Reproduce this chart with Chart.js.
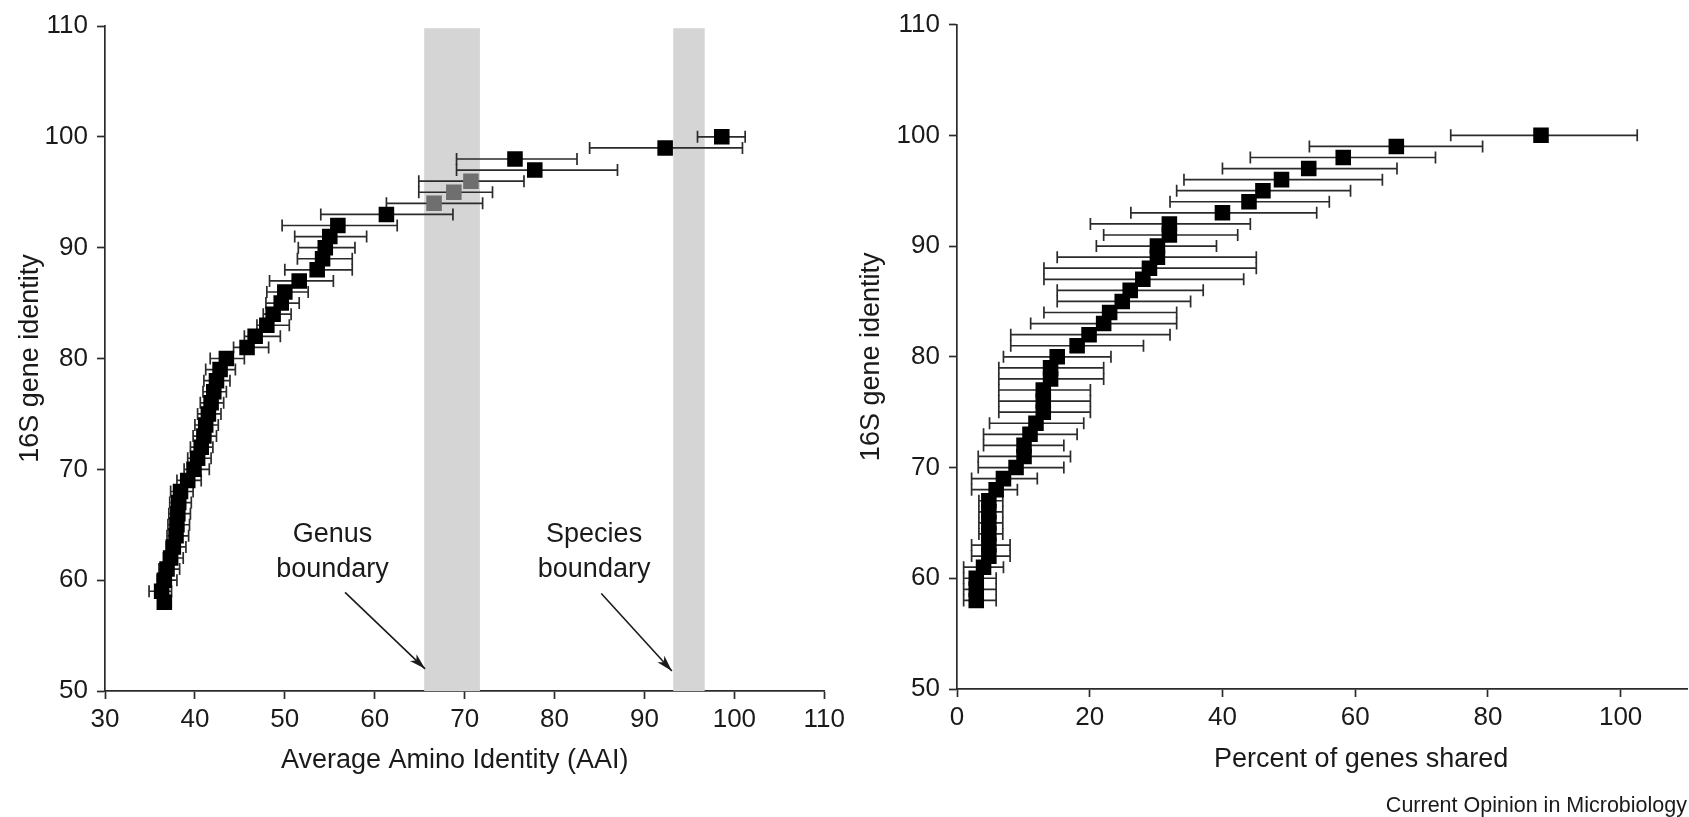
<!DOCTYPE html>
<html>
<head>
<meta charset="utf-8">
<script src="https://cdn.jsdelivr.net/npm/chart.js@4.4.1/dist/chart.umd.min.js"></script>
<style>
  html, body { margin: 0; padding: 0; background: #fff; }
  body { width: 1689px; height: 817px; position: relative; overflow: hidden; font-family: "Liberation Sans", Arial, Helvetica, sans-serif; }
  #aai { position: absolute; left: 0; top: 0; }
  #shared { position: absolute; left: 850px; top: 0; }
  .credit { position: absolute; right: 2px; top: 792px; font-size: 21.5px; line-height: 26px; color: #1a1a1a; }
</style>
</head>
<body>
<canvas id="aai" width="850" height="817" style="width:850px;height:817px"></canvas>
<canvas id="shared" width="839" height="817" style="width:839px;height:817px"></canvas>
<div class="credit">Current Opinion in Microbiology</div>
<script>
// 16S gene identity of each genome pair group (same rows in both panels)
const identity16S = [100, 99, 98, 97, 96, 95, 94, 93, 92, 91, 90, 89, 88, 87, 86, 85, 84, 83, 82, 81,
  80, 79, 78, 77, 76, 75, 74, 73, 72, 71, 70, 69, 68, 67, 66, 65, 64, 63, 62, 61, 60, 59, 58];

// left panel: average amino identity, with range
const aaiMean = [98.6, 92.3, 75.6, 77.8, 70.7, 68.8, 66.6, 61.3, 55.9, 55.0, 54.5, 54.2, 53.6, 51.6, 50.0, 49.6, 48.7, 48.0, 46.7, 45.8,
  43.5, 42.8, 42.4, 42.1, 41.8, 41.5, 41.2, 41.0, 40.7, 40.3, 39.9, 39.2, 38.4, 38.2, 38.1, 38.0, 37.9, 37.6, 37.3, 36.9, 36.6, 36.3, 36.6];
const aaiLow = [95.9, 83.9, 69.1, 69.1, 64.9, 64.9, 61.3, 54.0, 49.7, 51.1, 51.5, 51.4, 50.0, 48.3, 48.0, 47.9, 47.6, 46.9, 45.5, 44.3,
  41.7, 41.2, 41.0, 40.9, 40.6, 40.3, 40.0, 39.8, 39.5, 39.2, 38.8, 38.0, 37.3, 37.2, 37.1, 37.0, 36.9, 36.8, 36.5, 36.0, 35.8, 34.9, 36.0];
const aaiHigh = [101.2, 100.9, 82.5, 87.0, 76.6, 73.1, 72.0, 68.7, 62.5, 59.1, 57.8, 57.5, 57.5, 55.4, 52.6, 51.6, 50.7, 50.5, 49.5, 48.2,
  45.5, 44.5, 43.9, 43.5, 43.2, 42.9, 42.6, 42.4, 42.0, 41.8, 41.6, 40.7, 39.8, 39.6, 39.5, 39.4, 39.3, 39.0, 38.7, 38.3, 38.0, 37.4, 37.3];
const greyRows = [96, 95, 94];

// right panel: percent of genes shared, with range
const sharedMean = [88.0, 66.2, 58.2, 53.0, 48.9, 46.1, 44.0, 40.0, 32.0, 32.0, 30.2, 30.2, 29.0, 28.0, 26.1, 24.9, 23.0, 22.1, 19.9, 18.1,
  15.1, 14.1, 14.1, 13.0, 13.0, 13.0, 11.9, 11.0, 10.1, 10.1, 8.9, 7.0, 5.9, 4.8, 4.8, 4.8, 4.8, 4.8, 4.8, 4.0, 2.9, 2.9, 2.9];
const sharedLow = [74.4, 53.1, 44.2, 40.0, 34.2, 33.1, 32.1, 26.2, 20.1, 22.1, 21.0, 15.1, 13.1, 13.1, 15.1, 15.1, 13.1, 11.1, 8.1, 8.1,
  7.0, 6.3, 6.3, 6.3, 6.3, 6.3, 4.9, 4.0, 4.0, 3.2, 3.2, 2.2, 2.2, 3.3, 3.3, 3.3, 3.3, 2.2, 2.2, 1.0, 1.0, 1.0, 1.0];
const sharedHigh = [102.5, 79.2, 72.1, 66.3, 64.1, 59.3, 56.1, 54.2, 44.2, 42.3, 39.1, 45.1, 45.1, 43.2, 37.1, 35.2, 33.1, 33.1, 32.1, 28.1,
  23.2, 22.1, 22.1, 20.1, 20.1, 20.1, 19.1, 18.1, 16.1, 17.1, 16.1, 12.1, 9.1, 6.9, 6.9, 6.9, 6.9, 8.0, 8.0, 7.0, 5.9, 5.9, 5.9];

// boundary bands on the AAI axis
const genusBand = [65.5, 71.7];
const speciesBand = [93.2, 96.7];

const identityTicks = [50, 60, 70, 80, 90, 100, 110];
const aaiTicks = [30, 40, 50, 60, 70, 80, 90, 100, 110];
const sharedTicks = [0, 20, 40, 60, 80, 100];

const FONT = '"Liberation Sans", Arial, Helvetica, sans-serif';
const INK = '#1a1a1a';
const AXIS = '#2b2b2b';

// boundary labels in data units of the left panel
const boundaryNotes = [
  { lines: ['Genus', 'boundary'], at: [55.3, 64.1, 61.0], from: [56.7, 58.9], to: [65.6, 52.0] },
  { lines: ['Species', 'boundary'], at: [84.4, 64.1, 61.0], from: [85.2, 58.8], to: [93.05, 51.8] },
];

function bandsPlugin(bands, top) {
  return {
    id: 'bands',
    beforeDatasetsDraw(chart) {
      const { ctx, scales: { x, y } } = chart;
      ctx.save();
      ctx.fillStyle = '#d5d5d5';
      bands.forEach(b => {
        const x0 = x.getPixelForValue(b[0]), x1 = x.getPixelForValue(b[1]);
        const y0 = y.getPixelForValue(top), y1 = y.getPixelForValue(y.min);
        ctx.fillRect(x0, y0, x1 - x0, y1 - y0);
      });
      ctx.restore();
    }
  };
}

function errorBarPlugin(low, high) {
  return {
    id: 'errorBars',
    beforeDatasetsDraw(chart) {
      const { ctx, scales: { x, y } } = chart;
      ctx.save();
      ctx.lineWidth = 1.7;
      ctx.strokeStyle = AXIS;
      identity16S.forEach((row, i) => {
        const py = y.getPixelForValue(row);
        const x0 = x.getPixelForValue(low[i]), x1 = x.getPixelForValue(high[i]);
        ctx.beginPath();
        ctx.moveTo(x0, py); ctx.lineTo(x1, py);
        ctx.moveTo(x0, py - 6); ctx.lineTo(x0, py + 6);
        ctx.moveTo(x1, py - 6); ctx.lineTo(x1, py + 6);
        ctx.stroke();
      });
      ctx.restore();
    }
  };
}

function xCaptionPlugin(text, centre, fromBottom) {
  return {
    id: 'xCaption',
    afterDraw(chart) {
      const { ctx, scales: { x } } = chart;
      ctx.save();
      ctx.font = '27px ' + FONT;
      ctx.fillStyle = INK;
      ctx.textAlign = 'center';
      ctx.textBaseline = 'middle';
      ctx.fillText(text, x.getPixelForValue(centre), chart.height - fromBottom);
      ctx.restore();
    }
  };
}

const notesPlugin = {
  id: 'notes',
  afterDraw(chart) {
    const { ctx, scales: { x, y } } = chart;
    ctx.save();
    ctx.font = '27px ' + FONT;
    ctx.fillStyle = INK;
    ctx.strokeStyle = INK;
    ctx.textAlign = 'center';
    ctx.textBaseline = 'middle';
    boundaryNotes.forEach(n => {
      n.lines.forEach((t, k) => ctx.fillText(t, x.getPixelForValue(n.at[0]), y.getPixelForValue(n.at[k + 1])));
      const sx = x.getPixelForValue(n.from[0]), sy = y.getPixelForValue(n.from[1]);
      const ex = x.getPixelForValue(n.to[0]), ey = y.getPixelForValue(n.to[1]);
      const ang = Math.atan2(ey - sy, ex - sx);
      ctx.lineWidth = 1.6;
      ctx.beginPath();
      ctx.moveTo(sx, sy); ctx.lineTo(ex, ey);
      ctx.stroke();
      ctx.beginPath();
      ctx.moveTo(ex, ey);
      ctx.lineTo(ex - 17 * Math.cos(ang - 0.28), ey - 17 * Math.sin(ang - 0.28));
      ctx.lineTo(ex - 12 * Math.cos(ang), ey - 12 * Math.sin(ang));
      ctx.lineTo(ex - 17 * Math.cos(ang + 0.28), ey - 17 * Math.sin(ang + 0.28));
      ctx.closePath();
      ctx.fill();
    });
    ctx.restore();
  }
};

function axisOptions(ticks, extra) {
  return Object.assign({
    type: 'linear',
    afterBuildTicks: s => { s.ticks = ticks.map(v => ({ value: v })); },
    border: { display: true, color: AXIS, width: 1.7 },
    grid: { display: true, drawOnChartArea: false, drawTicks: true, tickLength: 8, tickWidth: 1.7, tickColor: AXIS },
    ticks: { color: INK, font: { family: FONT, size: 26 }, maxRotation: 0, autoSkip: false },
  }, extra);
}

function makePanel(id, cfg) {
  return new Chart(document.getElementById(id), {
    type: 'scatter',
    data: {
      datasets: [{
        data: identity16S.map((row, i) => ({ x: cfg.mean[i], y: row })),
        pointStyle: 'rect',
        pointRadius: 11,
        pointHoverRadius: 11,
        pointBorderWidth: 0,
        pointBackgroundColor: identity16S.map(r => cfg.grey.includes(r) ? '#6f6f6f' : '#000'),
      }]
    },
    options: {
      responsive: false,
      animation: false,
      layout: { autoPadding: false, padding: cfg.padding },
      plugins: { legend: { display: false }, tooltip: { enabled: false } },
      scales: {
        x: axisOptions(cfg.xTicks, {
          min: cfg.xMin, max: cfg.xMax,
          afterFit: s => { s.height = cfg.xAxisHeight; },
          ticks: { color: INK, font: { family: FONT, size: 26 }, maxRotation: 0, autoSkip: false, padding: 5 },
        }),
        y: axisOptions(identityTicks, {
          min: 50, max: 110,
          afterFit: s => { s.width = cfg.yAxisWidth; },
          ticks: { color: INK, font: { family: FONT, size: 26 }, padding: 9 },
          title: { display: true, text: '16S gene identity', color: INK, font: { family: FONT, size: 27 }, padding: { top: cfg.yTitlePad } },
        }),
      }
    },
    plugins: cfg.plugins,
  });
}

makePanel('aai', {
  mean: aaiMean, grey: greyRows, xTicks: aaiTicks, xMin: 30, xMax: 110,
  padding: { top: 26, right: 18, left: 0, bottom: 0 },
  xAxisHeight: 126, yAxisWidth: 105, yTitlePad: 14,
  plugins: [bandsPlugin([genusBand, speciesBand], 109.8), errorBarPlugin(aaiLow, aaiHigh), notesPlugin,
    xCaptionPlugin('Average Amino Identity (AAI)', 68.9, 56)],
});

makePanel('shared', {
  mean: sharedMean, grey: [], xTicks: sharedTicks, xMin: 0, xMax: 110,
  padding: { top: 24.5, right: 2, left: 0, bottom: 0 },
  xAxisHeight: 128, yAxisWidth: 107, yTitlePad: 5,
  plugins: [errorBarPlugin(sharedLow, sharedHigh), xCaptionPlugin('Percent of genes shared', 60.9, 57)],
});
</script>
</body>
</html>
